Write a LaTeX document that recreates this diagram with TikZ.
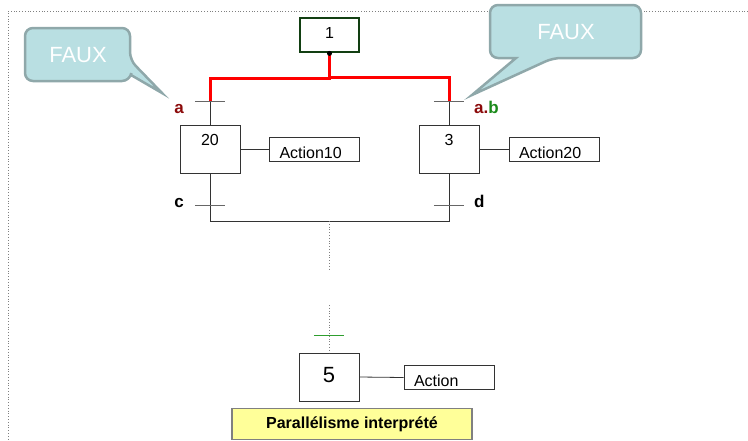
\documentclass[tikz,border=0pt]{standalone}
\usepackage{fontspec}
\setmainfont{Liberation Sans}

\definecolor{bulleFond}{HTML}{B9DFE2}
\definecolor{bulleBord}{HTML}{8FA8AA}
\definecolor{rougeFonce}{HTML}{8B0A0A}
\definecolor{vertCond}{HTML}{1A8A1A}
\definecolor{vertTrans}{HTML}{2E9E2E}
\definecolor{vertEtape}{HTML}{123F12}
\definecolor{jaune}{HTML}{FFFF99}

\begin{document}
\begin{tikzpicture}[x=1pt, y=-1pt,
    every node/.style={font=\fontsize{16}{18}\selectfont},
    etape/.style={draw=black!80, line width=0.8pt, minimum width=60pt, minimum height=48pt, inner sep=0pt},
    action/.style={draw=black!80, line width=0.8pt, minimum height=24pt, text width=70pt, inner xsep=10pt, inner ysep=2pt, text height=18pt, text depth=0pt, align=left},
    trans/.style={minimum width=30pt, minimum height=0pt, inner sep=0pt},
    barre/.style={draw=black!60, line width=0.8pt},
    cond/.style={font=\fontsize{17}{20}\selectfont\bfseries, inner sep=0pt},
    lien/.style={draw=black!80, line width=0.8pt},
    actif/.style={draw=red, line width=3pt},
    pointille/.style={draw=black!50, line width=0.8pt, dotted},
    bulle/.style={fill=bulleFond, draw=bulleBord, line width=2.5pt},
    faux/.style={text=white, font=\fontsize{22}{26}\selectfont}]
    \useasboundingbox (0,0) rectangle (748,440);

    % cadre
    \draw[pointille] (748,11) -- (8,11) -- (8,440);

    % etapes et actions
    \node[etape, draw=vertEtape, line width=2.8pt, minimum width=59pt, minimum height=34pt,
          label={[yshift=2pt]center:1}] (e1) at (329.5,35) {};
    \node[etape, label={[anchor=north, yshift=-6pt]north:20}] (e20) at (210,149) {};
    \node[etape, label={[anchor=north, yshift=-6pt]north:3}] (e3) at (449,149) {};
    \node[etape, label={[font=\fontsize{22}{26}\selectfont, yshift=2pt]center:5}] (e5) at (329,377) {};
    \node[action] (a10) at (314.5,149) {Action10};
    \node[action] (a20) at (554,149) {Action20};
    \node[action] (a5) at (449,377.5) {Action};
    \draw[lien] (e20.east) -- (a10.west);
    \draw[lien] (e3.east) -- (a20.west);
    \draw[lien] (e5.east) -- (a5.west);

    % transitions
    \node[trans] (ta) at (210,101) {};
    \node[trans] (tab) at (449,101) {};
    \node[trans] (tc) at (210,205) {};
    \node[trans] (td) at (449,205) {};
    \node[trans] (t5) at (329,335) {};
    \node[cond, text=rougeFonce, anchor=base east] (la) at (184,113) {a};
    \node[cond, anchor=base west] (lab) at (474,113) {\textcolor{rougeFonce}{a.}\textcolor{vertCond}{b}};
    \node[cond, anchor=base east] (lc) at (184,207) {c};
    \node[cond, anchor=base west] (ld) at (474,207) {d};

    % liaisons
    \coordinate (jg) at (210,221);
    \coordinate (jd) at (449,221);
    \coordinate (jm) at (329,221);
    \coordinate (p1) at (329,270);
    \coordinate (p2) at (329,305);
    \draw[lien] (ta.center) -- (e20.north);
    \draw[lien] (tab.center) -- (e3.north);
    \draw[lien] (e20.south) -- (jg) -- (jd) -- (e3.south);
    \foreach \t in {ta,tab,tc,td}
        \draw[barre] (\t.west) -- (\t.east);
    \draw[barre, draw=vertTrans, line width=1pt] (t5.west) -- (t5.east);
    \draw[pointille] (jm) -- (p1);
    \draw[pointille] (p2) -- (e5.north);

    \draw[actif] (e1.south) -- ++(0,25) -| (ta.center);
    \draw[actif] (e1.south) -- ++(0,24) -| (tab.center);
    \fill (e1.south) circle (2.5pt);

    % bulles
    \filldraw[bulle, rounded corners=8pt] (25,28) -- (130,28) -- (130,60) [sharp corners] -- (162,93)
        -- (131,75) [rounded corners=8pt] -- (130,81) -- (25,81) -- cycle;
    \filldraw[bulle, rounded corners=8pt] (490,5) -- (641,5) -- (641,58) -- (553,58) [sharp corners]
        -- (472,95) -- (516,58) [rounded corners=8pt] -- (490,58) -- cycle;
    \node[faux] (f1) at (78,55) {FAUX};
    \node[faux] (f2) at (566,32) {FAUX};

    \node[fill=jaune, draw=black!50, line width=1.2pt, minimum width=240pt, inner ysep=8pt,
          anchor=north, font=\fontsize{16}{18}\selectfont\bfseries] (titre) at (352,408) {Parallélisme interprété};
\end{tikzpicture}
\end{document}
